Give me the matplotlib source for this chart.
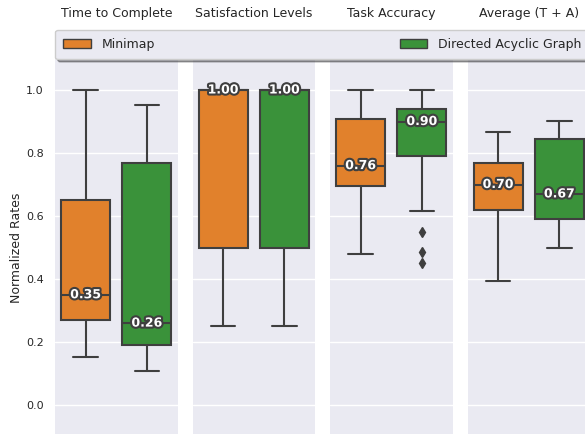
import matplotlib
matplotlib.use("Agg")
import matplotlib.pyplot as plt
import matplotlib.patheffects as pe
from matplotlib.patches import Patch
import seaborn as sns

sns.set_theme(style="darkgrid")
plt.rcParams['font.family'] = ['DejaVu Sans']

panels = ["Time to Complete", "Satisfaction Levels", "Task Accuracy", "Average (T + A)"]
groups = ["Minimap", "Directed Acyclic Graph"]
colors = ["#e1812c", "#3a923a"]

# per panel: [Minimap, DAG]
whislo = [[0.153, 0.109], [0.25, 0.25], [0.479, 0.615], [0.395, 0.498]]
q1     = [[0.27, 0.19],   [0.50, 0.50], [0.696, 0.79],  [0.618, 0.59]]
median = [[0.35, 0.26],   [1.00, 1.00], [0.76, 0.90],   [0.70, 0.67]]
q3     = [[0.65, 0.767],  [1.00, 1.00], [0.908, 0.939], [0.767, 0.843]]
whishi = [[1.00, 0.953],  [1.00, 1.00], [1.00, 1.00],   [0.867, 0.903]]
fliers = [[[], []], [[], []], [[], [0.55, 0.486, 0.451]], [[], []]]

yticks = [0.0, 0.2, 0.4, 0.6, 0.8, 1.0]

W, H = 585, 434
fig = plt.figure(figsize=(W / 100, H / 100), dpi=100)
fig.patch.set_facecolor("white")

lefts = [55, 192.5, 330, 467.5]
pw = 122.5
top_px, bot_px = 58.5, 436.5
line_c = "#3f3f3f"

for i, title in enumerate(panels):
    ax = fig.add_axes([lefts[i] / W, (H - bot_px) / H, pw / W, (bot_px - top_px) / H])
    stats = []
    for g in range(2):
        stats.append(dict(med=median[i][g], q1=q1[i][g], q3=q3[i][g],
                          whislo=whislo[i][g], whishi=whishi[i][g],
                          fliers=fliers[i][g], label=groups[g]))
    bp = ax.bxp(stats, positions=[0, 1], widths=0.8, patch_artist=True,
                showfliers=True,
                boxprops=dict(linewidth=1.5, edgecolor=line_c),
                whiskerprops=dict(color=line_c, linewidth=1.5),
                capprops=dict(color=line_c, linewidth=1.5),
                medianprops=dict(color=line_c, linewidth=1.5),
                flierprops=dict(marker="d", markerfacecolor=line_c,
                                markeredgecolor=line_c, markersize=5))
    for g, box in enumerate(bp["boxes"]):
        box.set_facecolor(colors[g])
    for g in range(2):
        ax.text(g, median[i][g], f"{median[i][g]:.2f}", ha="center", va="center",
                color="white", fontweight="bold", fontsize=9,
                path_effects=[pe.withStroke(linewidth=3, foreground=line_c)])
    ax.set_xlim(-0.5, 1.5)
    ax.set_ylim(-0.1, 1.1)
    ax.set_yticks(yticks)
    ax.set_xticks([])
    ax.grid(axis="x", visible=False)
    ax.set_title(title, fontsize=9, pad=30)
    ax.tick_params(axis="y", labelsize=8, pad=2)
    if i == 0:
        ax.set_ylabel("Normalized Rates", fontsize=9, labelpad=2)
    else:
        ax.tick_params(axis="y", labelleft=False)
    for s in ax.spines.values():
        s.set_visible(False)

handles = [Patch(facecolor=colors[g], edgecolor=line_c, label=groups[g]) for g in range(2)]
fig.legend(handles=handles, loc="lower left", ncol=2, mode="expand",
           bbox_to_anchor=(55 / W, (H - 59) / H, (590 - 55) / W, 26 / H),
           borderaxespad=0, fontsize=9, shadow=True, frameon=True, borderpad=0.65,
           handlelength=2.2, handletextpad=0.9,
           facecolor="#EAEAF2", edgecolor="#cccccc", fancybox=True)

fig.savefig("out.png", dpi=100)
